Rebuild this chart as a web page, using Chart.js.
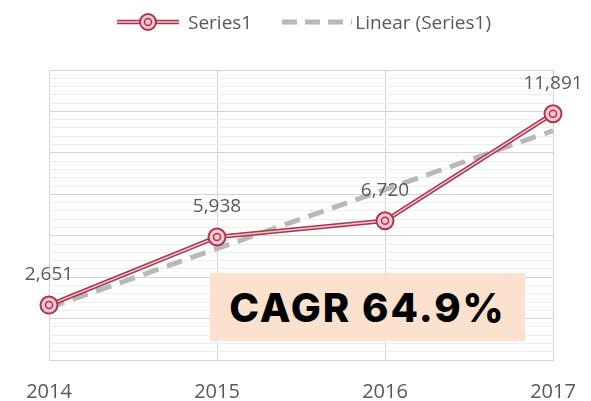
<!DOCTYPE html>
<html>
<head>
<meta charset="utf-8">
<script src="https://cdn.jsdelivr.net/npm/chart.js@4.4.0/dist/chart.umd.min.js"></script>
<style>
  html, body { margin: 0; padding: 0; background: #fff; }
  #wrap { position: relative; width: 591px; height: 401px; }
  #legenda { position: absolute; left: 117px; top: 10px; height: 24px; display: flex; align-items: center;
             font: 19px "Open Sans", sans-serif; color: #595959; white-space: nowrap; }
  #legenda canvas { display: block; }
  #legenda .txt1 { margin-left: 9px; margin-right: 30px; }
  #legenda .txt2 { margin-left: 3px; }
  #cagr { position: absolute; left: 210px; top: 273px; width: 315px; height: 68px; background: #fce1ce;
          display: flex; align-items: center; justify-content: center;
          font: 800 40px Inter, "Open Sans", sans-serif; letter-spacing: 2px; color: #000; }
</style>
</head>
<body>
<div id="wrap">
  <canvas id="grafico" width="591" height="401"></canvas>
  <div id="legenda">
    <canvas id="amostraSerie" width="62" height="22"></canvas><span class="txt1">Series1</span>
    <canvas id="amostraLinear" width="70" height="22"></canvas><span class="txt2">Linear (Series1)</span>
  </div>
  <div id="cagr">CAGR 64.9%</div>
</div>
<script>
// dados
const anos = ['2014', '2015', '2016', '2017'];
const valores = [2651, 5938, 6720, 11891];
const tendencia = [2520, 5380, 8230, 11070]; // linha de tendência linear (estimada)
const escalaY = [0, 14000, 2000, 400]; // min, max, linha principal, linha secundária

const corEscura = '#a8374f';
const corClara = '#f5c6d0';
const corTendencia = '#b8b8b8';
const corTexto = '#595959';

document.addEventListener("DOMContentLoaded", function () {
  // === AMOSTRAS DA LEGENDA ===
  const g1 = document.getElementById('amostraSerie').getContext('2d');
  g1.strokeStyle = corEscura; g1.lineWidth = 4.5;
  g1.beginPath(); g1.moveTo(0, 11); g1.lineTo(62, 11); g1.stroke();
  g1.strokeStyle = corClara; g1.lineWidth = 1.5;
  g1.beginPath(); g1.moveTo(0, 11); g1.lineTo(62, 11); g1.stroke();
  g1.fillStyle = corClara; g1.strokeStyle = corEscura; g1.lineWidth = 2;
  g1.beginPath(); g1.arc(31, 11, 8, 0, Math.PI * 2); g1.fill(); g1.stroke();
  g1.lineWidth = 1.5;
  g1.beginPath(); g1.arc(31, 11, 3.5, 0, Math.PI * 2); g1.stroke();

  const g2 = document.getElementById('amostraLinear').getContext('2d');
  g2.strokeStyle = corTendencia; g2.lineWidth = 5; g2.setLineDash([15, 8]);
  g2.beginPath(); g2.moveTo(0, 11); g2.lineTo(70, 11); g2.stroke();

  // === PLUGIN: ANEL INTERNO DOS MARCADORES + RÓTULOS ===
  const rotulosPlugin = {
    id: 'rotulos',
    afterDatasetsDraw(chart) {
      const ctx = chart.ctx;
      const meta = chart.getDatasetMeta(3);
      ctx.save();
      meta.data.forEach((pt, i) => {
        ctx.beginPath();
        ctx.arc(pt.x, pt.y, 3.5, 0, Math.PI * 2);
        ctx.lineWidth = 1.5;
        ctx.strokeStyle = corEscura;
        ctx.stroke();

        ctx.fillStyle = corTexto;
        ctx.font = '19px "Open Sans"';
        ctx.textAlign = 'center';
        ctx.textBaseline = 'middle';
        ctx.fillText(valores[i].toLocaleString('en-US'), pt.x, pt.y - 30);
      });
      ctx.restore();
    }
  };

  // === GRÁFICO DE LINHA ===
  const ctx = document.getElementById('grafico').getContext('2d');
  new Chart(ctx, {
    type: 'line',
    data: {
      labels: anos,
      datasets: [
        { // contorno escuro da série
          label: 'Series1', data: valores, order: 3,
          borderColor: corEscura, borderWidth: 4.5, pointRadius: 0, tension: 0
        },
        { // faixa clara no meio da linha
          label: 'Series1 faixa', data: valores, order: 2,
          borderColor: corClara, borderWidth: 1.5, pointRadius: 0, tension: 0
        },
        { // tendência
          label: 'Linear (Series1)', data: tendencia, order: 4,
          borderColor: corTendencia, borderWidth: 5, borderDash: [16, 9],
          borderCapStyle: 'butt', pointRadius: 0, tension: 0
        },
        { // marcadores
          label: 'Series1 marcadores', data: valores, order: 1, showLine: false,
          pointRadius: 8.5, pointBorderWidth: 2,
          pointBackgroundColor: corClara, pointBorderColor: corEscura
        }
      ]
    },
    options: {
      responsive: false,
      animation: false,
      layout: { padding: { top: 70, left: 49, right: 38, bottom: 0 } },
      plugins: {
        legend: { display: false },
        tooltip: { enabled: false }
      },
      scales: {
        x: {
          offset: false,
          grid: { color: '#d4d4d4', drawTicks: false },
          border: { color: '#d4d4d4' },
          ticks: { color: corTexto, padding: 20, font: { family: 'Open Sans', size: 20 } },
          afterFit: s => { s.height = 41; s.paddingLeft = 0; s.paddingRight = 0; }
        },
        y: {
          min: escalaY[0], max: escalaY[1],
          ticks: { display: false, stepSize: escalaY[3] },
          border: { display: false },
          grid: {
            drawTicks: false,
            color: c => (c.tick && c.tick.value % escalaY[2] === 0) ? '#d4d4d4' : '#eeeeee'
          }
        }
      }
    },
    plugins: [rotulosPlugin]
  });
});
</script>
</body>
</html>
